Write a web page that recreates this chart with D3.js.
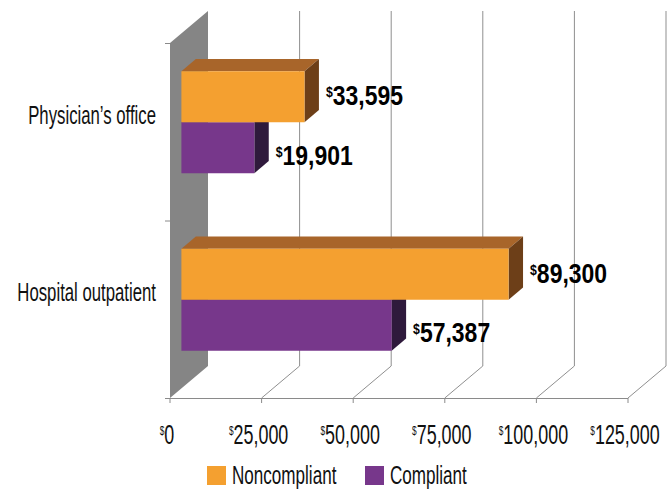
<!DOCTYPE html>
<html><head><meta charset="utf-8">
<script src="https://cdn.jsdelivr.net/npm/d3@7"></script>
<style>html,body{margin:0;padding:0;background:#fff;}svg{display:block;}</style>
</head><body>
<script>
const categories = ["Physician\u2019s office", "Hospital outpatient"];
const seriesNames = ["Noncompliant", "Compliant"];
const noncompliant = [33595, 89300];
const compliant = [19901, 57387];
const tickValues = [0, 25000, 50000, 75000, 100000, 125000];
const tickLabels = ["0", "25,000", "50,000", "75,000", "100,000", "125,000"];

const W = 672, H = 489;
const FONT = "'Liberation Sans', Arial, sans-serif";
const colors = {
  Noncompliant: {front: "#F4A030", top: "#A8652A", side: "#6D3F18"},
  Compliant: {front: "#77378B", top: "#5A2A6A", side: "#2F1A3C"}
};

const svg = d3.select("body").append("svg").attr("width", W).attr("height", H);

const x = d3.scaleLinear().domain([0, 125000]).range([170, 628]);
const y = d3.scaleBand().domain(categories).range([43, 398]);
const ys = d3.scaleBand().domain(seriesNames).range([0, y.bandwidth()]).paddingOuter(0.74);
const DX = 38, DY = -32;
const P = (px, py, z) => [px + DX * z, py + DY * z];
const Z1 = 0.3, Z2 = 0.68;
const y0 = y.range()[0], y1 = y.range()[1];

// back gridlines + floor lines
const grid = svg.append("g").attr("stroke", "#8f8f8f").attr("stroke-width", 1).attr("fill", "none");
tickValues.filter(t => t > 0).forEach(t => {
  const a = P(x(t), y0, 1), b = P(x(t), y1, 1);
  grid.append("line").attr("x1", a[0]).attr("y1", a[1]).attr("x2", b[0]).attr("y2", b[1]);
  grid.append("line").attr("x1", x(t)).attr("y1", y1).attr("x2", b[0]).attr("y2", b[1]);
});

// side wall
const w = [[x(0), y0], P(x(0), y0, 1), P(x(0), y1, 1), [x(0), y1]];
svg.append("polygon").attr("points", w.map(p => p.join(",")).join(" ")).attr("fill", "#858585");

// axes
const ax = svg.append("g").attr("stroke", "#8a8a8a").attr("stroke-width", 1);
ax.append("line").attr("x1", x(0) - 5).attr("x2", x(125000)).attr("y1", y1 + 0.5).attr("y2", y1 + 0.5);
tickValues.forEach(t => ax.append("line").attr("x1", x(t)).attr("x2", x(t)).attr("y1", y1).attr("y2", y1 + 5));
[y0, y(categories[1]), y1].forEach(v => ax.append("line").attr("x1", x(0) - 5).attr("x2", x(0)).attr("y1", v + 0.5).attr("y2", v + 0.5));

// tick labels
tickValues.forEach((t, i) => {
  const g = svg.append("g").attr("transform", `translate(${x(t) - 3},444) scale(0.64,1)`);
  const tx = g.append("text").attr("text-anchor", "middle").attr("font-family", FONT).attr("font-size", 28).attr("fill", "#111");
  tx.append("tspan").attr("font-size", 13).attr("dy", -9).text("$");
  tx.append("tspan").attr("dy", 9).text(tickLabels[i]);
});

// category labels
categories.forEach(c => {
  const cy = y(c) + y.bandwidth() / 2;
  svg.append("g").attr("transform", `translate(156,${cy - 8}) scale(0.67,1)`)
    .append("text").attr("text-anchor", "end").attr("font-family", FONT).attr("font-size", 25).attr("fill", "#111").text(c);
});

// bars
const bars = [];
categories.forEach((c, i) => {
  bars.push({cat: c, s: "Compliant", v: compliant[i]});
  bars.push({cat: c, s: "Noncompliant", v: noncompliant[i]});
});
const pts = a => a.map(p => p.join(",")).join(" ");
bars.forEach(d => {
  const top = y(d.cat) + ys(d.s), bot = top + ys.bandwidth();
  const xl = x(0), xr = x(d.v);
  const ftl = P(xl, top, Z1), ftr = P(xr, top, Z1), fbr = P(xr, bot, Z1), fbl = P(xl, bot, Z1);
  const btl = P(xl, top, Z2), btr = P(xr, top, Z2), bbr = P(xr, bot, Z2);
  const col = colors[d.s];
  svg.append("polygon").attr("points", pts([ftl, ftr, btr, btl])).attr("fill", col.top);
  svg.append("polygon").attr("points", pts([ftr, btr, bbr, fbr])).attr("fill", col.side);
  svg.append("polygon").attr("points", pts([ftl, ftr, fbr, fbl])).attr("fill", col.front);
  // label
  const fc = (ftl[1] + fbl[1]) / 2;
  const by = fc + (d.s === "Noncompliant" ? 8.5 : 17);
  const g = svg.append("g").attr("transform", `translate(${btr[0] + 7},${by}) scale(0.82,1)`);
  const tx = g.append("text").attr("font-family", FONT).attr("font-weight", "bold").attr("font-size", 28).attr("fill", "#000");
  tx.append("tspan").attr("font-size", 15).attr("dy", -8).text("$");
  tx.append("tspan").attr("dy", 8).text(d3.format(",")(d.v));
});

// legend
const legX = [207, 365];
seriesNames.forEach((s, i) => {
  svg.append("rect").attr("x", legX[i]).attr("y", 466).attr("width", 19).attr("height", 19).attr("fill", colors[s].front);
  svg.append("g").attr("transform", `translate(${legX[i] + 25},483.5) scale(0.67,1)`)
    .append("text").attr("font-family", FONT).attr("font-size", 25.5).attr("fill", "#111").text(s);
});
</script>
</body></html>
